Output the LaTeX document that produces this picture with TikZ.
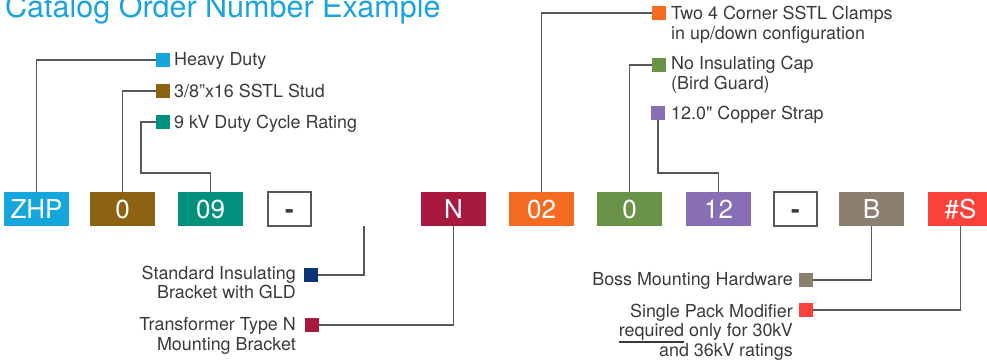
\documentclass[tikz,border=0pt]{standalone}
\usepackage{fontspec}
\setmainfont{TeX Gyre Heros}[Ligatures=TeXOff]
\definecolor{cZHP}{HTML}{16A6DE}
\definecolor{cBrown}{HTML}{8C6310}
\definecolor{cTeal}{HTML}{00907D}
\definecolor{cCrimson}{HTML}{A8193F}
\definecolor{cOrange}{HTML}{F36C21}
\definecolor{cGreen}{HTML}{6A9347}
\definecolor{cPurple}{HTML}{886EB5}
\definecolor{cTaupe}{HTML}{8B7F6F}
\definecolor{cRed}{HTML}{F9423A}
\definecolor{cNavy}{HTML}{0B3478}
\definecolor{titleblue}{HTML}{1BA3DD}
\definecolor{textgray}{HTML}{3A3A3C}
\definecolor{linegray}{HTML}{58585A}
\newcommand\myul[1]{\setbox0=\hbox{#1}\rlap{\rule[-6pt]{\wd0}{1.4pt}}\box0\relax}
\begin{document}
\begin{tikzpicture}[x=1pt,y=-1pt,
  codebox/.style={minimum width=65pt, minimum height=34pt, inner sep=0pt, outer sep=0pt,
    text height=19pt, text depth=0pt,
    text=white, font=\fontsize{26}{26}\selectfont, anchor=north west},
  dashbox/.style={codebox, minimum width=43pt, fill=white, draw=linegray, line width=1.3pt,
    text=textgray, font=\fontsize{26}{26}\selectfont\bfseries},
  sq/.style={minimum size=14pt, inner sep=0pt, outer sep=0pt, anchor=north west},
  lbl/.style={font=\fontsize{17.9}{19.5}\selectfont, text=textgray, inner sep=0pt},
  lblL/.style={lbl, align=left, anchor=base west},
  lblR/.style={lbl, align=right, anchor=base east},
  conn/.style={draw=linegray, line width=1.3pt}]
\useasboundingbox (0,0) rectangle (987,361);
\node[anchor=base west, inner sep=0pt, text=titleblue, font=\fontsize{30.5}{30.5}\selectfont] (title) at (5,18) {Catalog Order Number Example};
% code boxes
\node[codebox, fill=cZHP] (zhp) at (4,192) {ZHP};
\node[codebox, fill=cBrown] (b0) at (90,192) {0};
\node[codebox, fill=cTeal] (b09) at (178,192) {09};
\node[dashbox] (d1) at (268,192) {-};
\node[codebox, fill=cCrimson] (bN) at (421,192) {N};
\node[codebox, fill=cOrange] (b02) at (509,192) {02};
\node[codebox, fill=cGreen] (bg0) at (597,192) {0};
\node[codebox, fill=cPurple] (b12) at (686,192) {12};
\node[dashbox] (d2) at (774,192) {-};
\node[codebox, fill=cTaupe] (bB) at (839,192) {B};
\node[codebox, fill=cRed] (bS) at (928,192) {\#S};
% squares
\node[sq, fill=cZHP] (sqHD) at (156,53) {};
\node[sq, fill=cBrown] (sqSt) at (156,84) {};
\node[sq, fill=cTeal] (sqKV) at (156,115) {};
\node[sq, fill=cOrange] (sqCl) at (652,6) {};
\node[sq, fill=cGreen] (sqNI) at (652,58) {};
\node[sq, fill=cPurple] (sqCu) at (651,106) {};
\node[sq, fill=cNavy] (sqSI) at (304,268) {};
\node[sq, fill=cCrimson] (sqTN) at (305,318) {};
\node[sq, fill=cTaupe] (sqBo) at (799,273) {};
\node[sq, fill=cRed] (sqSP) at (799,303) {};
% labels (multi-line labels are placed by the baseline of their last line)
\node[lblL] (tHD) at (174,66) {Heavy Duty};
\node[lblL] (tSt) at (174,97) {3/8”x16 SSTL Stud};
\node[lblL] (tKV) at (174,128) {9 kV Duty Cycle Rating};
\node[lblL] (tCl) at (671,39.5) {Two 4 Corner SSTL Clamps\\in up/down configuration};
\node[lblL] (tNI) at (671,89) {No Insulating Cap\\(Bird Guard)};
\node[lblL] (tCu) at (671,119) {12.0" Copper Strap};
\node[lblR] (tSI) at (296,298.5) {Standard Insulating\\Bracket with GLD};
\node[lblR] (tTN) at (296,350) {Transformer Type N\\Mounting Bracket};
\node[lblR] (tBo) at (793,285) {Boss Mounting Hardware};
\node[lblR] (tSP) at (793,356) {Single Pack Modifier\\\myul{required} only for 30kV\\and 36kV ratings};
% connectors
\coordinate (kvbend) at (141,173);
\coordinate (cubend) at (718.5,173);
\coordinate (gap) at (364,226);
\draw[conn] (zhp.north) |- (sqHD.west);
\draw[conn] (b0.north) |- (sqSt.west);
\draw[conn] (b09.north) |- (kvbend) |- (sqKV.west);
\draw[conn] (b02.north) |- (sqCl.west);
\draw[conn] (bg0.north) |- (sqNI.west);
\draw[conn] (sqCu.south) |- (cubend) -- (b12.north);
\draw[conn] (gap) |- (sqSI.east);
\draw[conn] (bN.south) |- (sqTN.east);
\draw[conn] (bB.south) |- (sqBo.east);
\draw[conn] (bS.south) |- (sqSP.east);
\end{tikzpicture}
\end{document}
